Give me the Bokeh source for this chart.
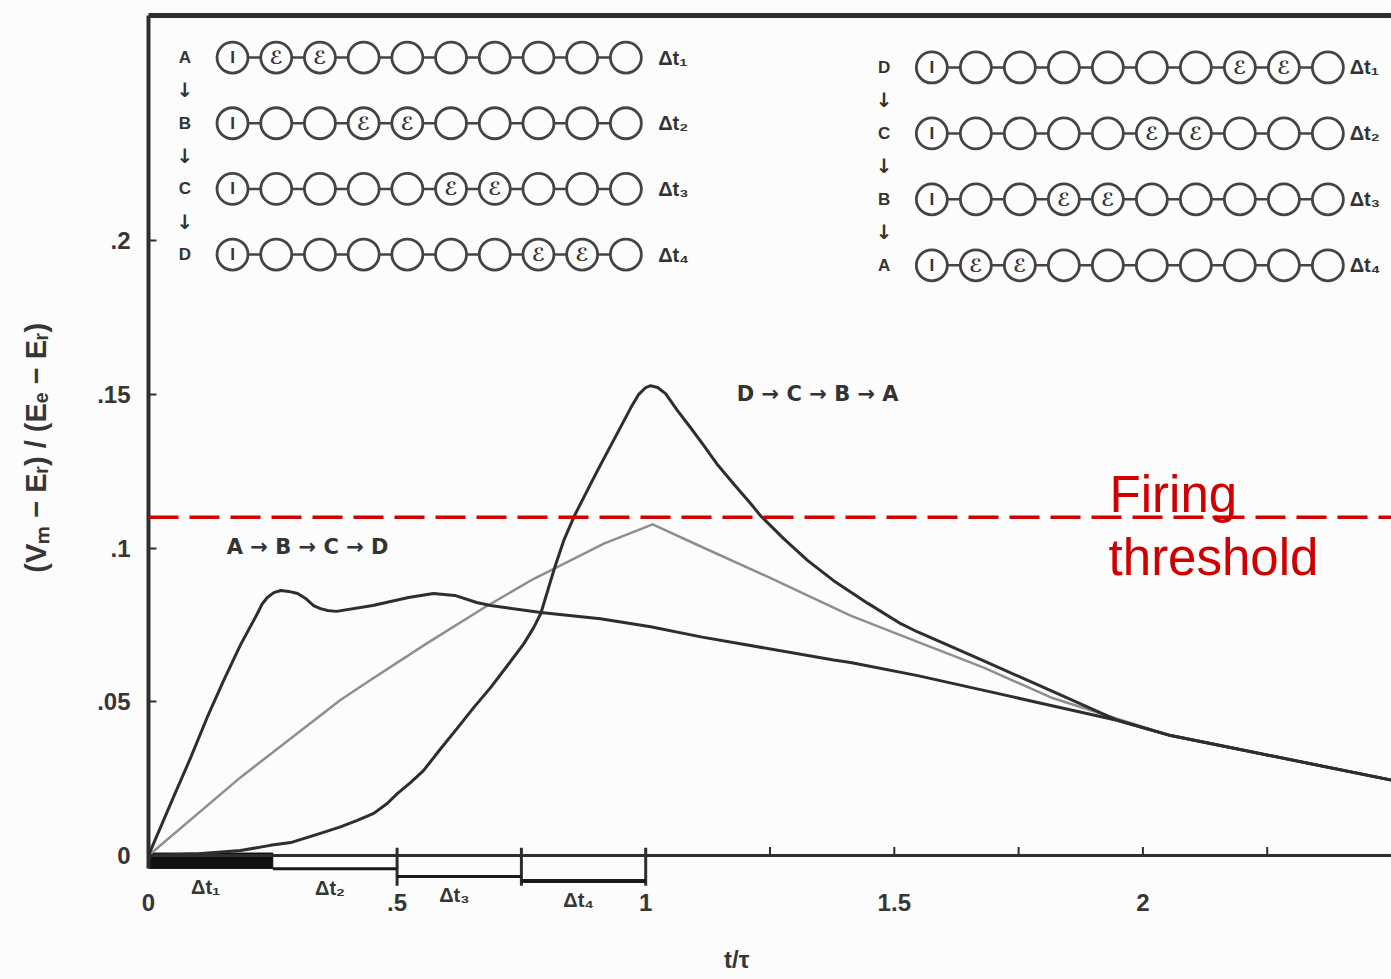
from bokeh.plotting import figure
from bokeh.models import Span, Label, LinearAxis, FixedTicker, Range1d
from bokeh.embed import file_html
from bokeh.resources import INLINE
from bokeh.core.properties import value

# ---------------- data ----------------
# A -> B -> C -> D sequence (soma-proximal first)
t_abcd = [0, 0.050, 0.085, 0.118, 0.151, 0.185, 0.219, 0.229, 0.239, 0.252, 0.266, 0.282, 0.300,
          0.316, 0.332, 0.346, 0.360, 0.378, 0.451, 0.523, 0.573, 0.616, 0.660, 0.688, 0.789,
          0.909, 1.01, 1.111, 1.378, 1.412, 1.547, 1.680, 1.815, 1.950, 2.056, 2.183, 2.5]
v_abcd = [0, 0.0189, 0.0319, 0.0449, 0.0569, 0.0685, 0.0787, 0.0819, 0.0839, 0.0855, 0.0862, 0.0859,
          0.0852, 0.0836, 0.0813, 0.0803, 0.0797, 0.0794, 0.0813, 0.0839, 0.0852, 0.0846, 0.0823,
          0.0813, 0.0790, 0.0770, 0.0744, 0.0711, 0.0636, 0.0628, 0.0585, 0.0537, 0.0488, 0.0439,
          0.0390, 0.0349, 0.0245]

# D -> C -> B -> A sequence (distal first)
t_dcba = [0, 0.100, 0.185, 0.245, 0.286, 0.320, 0.352, 0.386, 0.420, 0.453, 0.480, 0.501, 0.527,
          0.553, 0.588, 0.622, 0.654, 0.688, 0.722, 0.755, 0.775, 0.789, 0.803, 0.817, 0.835,
          0.857, 0.889, 0.909, 0.930, 0.950, 0.970, 0.986, 1.000, 1.010, 1.024, 1.040, 1.064,
          1.090, 1.117, 1.145, 1.177, 1.211, 1.231, 1.278, 1.326, 1.378, 1.447, 1.513, 1.547,
          1.680, 1.815, 1.950, 2.056, 2.183, 2.5]
v_dcba = [0, 0.0006, 0.0016, 0.0033, 0.0042, 0.0059, 0.0075, 0.0093, 0.0114, 0.0137, 0.0169, 0.0202,
          0.0237, 0.0276, 0.0348, 0.0416, 0.0481, 0.0546, 0.0618, 0.0689, 0.0742, 0.0787, 0.0862,
          0.0937, 0.1024, 0.1106, 0.1208, 0.1270, 0.1334, 0.1395, 0.1456, 0.1500, 0.1522, 0.1528,
          0.1522, 0.1502, 0.1447, 0.1392, 0.1333, 0.1270, 0.1208, 0.1145, 0.1105, 0.1030, 0.0959,
          0.0894, 0.0820, 0.0754, 0.0727, 0.0633, 0.0536, 0.0439, 0.0390, 0.0349, 0.0245]

# uniform input over the whole time (grey curve)
t_uniform = [0, 0.185, 0.386, 0.445, 0.559, 0.674, 0.775, 0.855, 0.917, 1.014, 1.111, 1.245,
             1.412, 1.547, 1.680, 1.815, 1.915, 2.056, 2.183, 2.5]
v_uniform = [0, 0.0254, 0.0506, 0.0569, 0.0689, 0.0805, 0.0900, 0.0965, 0.1015, 0.1077, 0.1005,
             0.0907, 0.0780, 0.0695, 0.0611, 0.0514, 0.0462, 0.0390, 0.0349, 0.0245]

threshold = 0.11

x_ticks = [0, 0.5, 1, 1.5, 2]
x_tick_labels = ["0", ".5", "1", "1.5", "2"]
y_ticks = [0, 0.05, 0.1, 0.15, 0.2]
y_tick_labels = ["0", ".05", ".1", ".15", ".2"]
small_x_ticks = [1.25, 1.5, 1.75, 2.0, 2.25]

dt_start = [0, 0.25, 0.5, 0.75]
dt_end = [0.25, 0.5, 0.75, 1.0]
dt_names = ["Δt₁", "Δt₂", "Δt₃", "Δt₄"]

n_comp = 10
left_order = ["A", "B", "C", "D"]
left_excited = [[1, 2], [3, 4], [5, 6], [7, 8]]
right_order = ["D", "C", "B", "A"]
right_excited = [[7, 8], [5, 6], [3, 4], [1, 2]]

# ---------------- styling / layout constants ----------------
INK = "#2e2e2e"
TXT = "#363636"
RED = "#d00000"
BG = "#fcfcfc"
FONT = value("Liberation Sans")
ARROW_FONT = value("DejaVu Sans")
BAR_DEPTH = [0.0042, 0.0043, 0.0068, 0.0083]
NBSP = "\u00a0"

p = figure(width=1391, height=979, x_range=Range1d(0, 2.5), y_range=Range1d(-0.02114, 0.2732),
           output_backend="svg", toolbar_location=None,
           min_border_left=148, min_border_right=0, min_border_top=15, min_border_bottom=59)
p.grid.visible = False
p.outline_line_color = None
p.background_fill_color = BG
p.border_fill_color = BG

# y axis
ya = p.yaxis[0]
ya.ticker = FixedTicker(ticks=y_ticks)
ya.bounds = (-0.0042, 0.2732)
ya.major_label_overrides = dict(zip(y_ticks, y_tick_labels))
ya.axis_line_width = 4
ya.axis_line_color = INK
ya.major_tick_in = 8
ya.major_tick_out = 0
ya.major_tick_line_width = 2
ya.major_tick_line_color = INK
ya.minor_tick_line_color = None
ya.major_label_standoff = 18
ya.major_label_text_font = "Liberation Sans"
ya.major_label_text_font_style = "bold"
ya.major_label_text_font_size = "24px"
ya.major_label_text_color = TXT
# leading padding nudges the centred label up to where the original sits
ya.axis_label = NBSP * 5 + "(Vₘ − Eᵣ) / (Eₑ − Eᵣ)"
ya.axis_label_text_font = "Liberation Sans"
ya.axis_label_text_font_style = "bold"
ya.axis_label_text_font_size = "29px"
ya.axis_label_text_color = TXT
ya.axis_label_standoff = 42

# x axis (labels only; pulled up next to the zero line)
xa = p.xaxis[0]
xa.ticker = FixedTicker(ticks=x_ticks)
xa.major_label_overrides = dict(zip(x_ticks, x_tick_labels))
xa.axis_line_color = None
xa.major_tick_line_color = None
xa.major_tick_in = 0
xa.major_tick_out = 0
xa.minor_tick_line_color = None
xa.major_label_standoff = -27
xa.major_label_text_font = "Liberation Sans"
xa.major_label_text_font_style = "bold"
xa.major_label_text_font_size = "24px"
xa.major_label_text_color = TXT
xa.axis_label = "t/τ" + NBSP * 10
xa.axis_label_text_font = "Liberation Sans"
xa.axis_label_text_font_style = "bold"
xa.axis_label_text_font_size = "24px"
xa.axis_label_text_color = TXT
xa.axis_label_standoff = 32

# top border as an axis line
top = LinearAxis(ticker=FixedTicker(ticks=[]), axis_line_width=5, axis_line_color=INK,
                 major_tick_line_color=None, minor_tick_line_color=None,
                 major_tick_in=0, major_tick_out=0, minor_tick_in=0, minor_tick_out=0,
                 major_label_standoff=0)
p.add_layout(top, "above")

# zero line and its ticks
p.add_layout(Span(location=0, dimension="width", line_color=INK, line_width=3))
p.segment(x0=small_x_ticks, y0=[0] * len(small_x_ticks), x1=small_x_ticks,
          y1=[0.0028] * len(small_x_ticks), line_color=INK, line_width=2)
p.segment(x0=dt_end[1:], y0=[0.0025] * 3, x1=dt_end[1:], y1=[-0.0098] * 3,
          line_color=INK, line_width=3)

# delta-t staircase
p.quad(left=dt_start[:1], right=dt_end[:1], top=[0.0008], bottom=[-BAR_DEPTH[0]],
       fill_color="#111111", line_color="#111111")
p.segment(x0=dt_start[1:], x1=dt_end[1:], y0=[-d for d in BAR_DEPTH[1:]],
          y1=[-d for d in BAR_DEPTH[1:]], line_color="#1a1a1a", line_width=[3, 3, 4])
p.text(x=[(s + e) / 2 - 0.01 for s, e in zip(dt_start, dt_end)],
       y=[-d - 0.0062 for d in BAR_DEPTH], text=dt_names, text_align="center",
       text_baseline="middle", text_font=FONT, text_font_style="bold",
       text_font_size="20px", text_color=TXT)

# firing threshold
p.add_layout(Span(location=threshold, dimension="width", line_color=RED, line_width=3.5,
                  line_dash="30 11"))
p.add_layout(Label(x=1.933, y=0.1174, text="Firing", text_align="left", text_baseline="alphabetic",
                   text_font="Liberation Sans", text_font_size="51px", text_color=RED))
p.add_layout(Label(x=1.931, y=0.0969, text="threshold", text_align="left", text_baseline="alphabetic",
                   text_font="Liberation Sans", text_font_size="51px", text_color=RED))

# curves
p.line(t_uniform, v_uniform, line_color="#8e8e8e", line_width=2.5, line_join="round")
p.line(t_abcd, v_abcd, line_color=INK, line_width=3, line_join="round")
p.line(t_dcba, v_dcba, line_color=INK, line_width=3, line_join="round")

p.text(x=[0.32], y=[0.1002], text=["A → B → C → D"], text_align="center", text_baseline="middle",
       text_font=ARROW_FONT, text_font_style="bold", text_font_size="21px", text_color="#333333")
p.text(x=[1.346], y=[0.1501], text=["D → C → B → A"], text_align="center", text_baseline="middle",
       text_font=ARROW_FONT, text_font_style="bold", text_font_size="21px", text_color="#333333")


# compartment chain diagrams
def chain_diagram(x0, dx, y0, dy, order, excited, dt_offset):
    xs_row = [x0 + k * dx for k in range(n_comp)]
    for i, (name, exc) in enumerate(zip(order, excited)):
        y = y0 - i * dy
        p.segment(x0=[xs_row[0]], x1=[xs_row[-1]], y0=[y], y1=[y], line_color="#444444", line_width=2.5)
        p.scatter(x=xs_row, y=[y] * n_comp, marker="circle", size=31, fill_color=BG,
                  line_color="#444444", line_width=2.8)
        p.text(x=[xs_row[0]], y=[y], text=["I"], text_align="center", text_baseline="middle",
               text_font=FONT, text_font_style="bold", text_font_size="17px", text_color="#333333")
        p.text(x=[xs_row[k] for k in exc], y=[y] * len(exc), text=["ℰ"] * len(exc),
               text_align="center", text_baseline="middle", text_font=value("DejaVu Sans"),
               text_font_style="bold", text_font_size="18px", text_color="#333333")
        p.text(x=[x0 - 0.096], y=[y], text=[name], text_align="center", text_baseline="middle",
               text_font=FONT, text_font_style="bold", text_font_size="17px", text_color="#333333")
        p.text(x=[xs_row[-1] + dt_offset], y=[y], text=[dt_names[i]], text_align="left",
               text_baseline="middle", text_font=FONT, text_font_style="bold",
               text_font_size="20px", text_color="#333333")
        if i < len(order) - 1:
            p.text(x=[x0 - 0.096], y=[y - dy / 2], text=["↓"], text_align="center",
                   text_baseline="middle", text_font=ARROW_FONT, text_font_style="bold",
                   text_font_size="20px", text_color="#333333")


chain_diagram(0.169, 0.0879, 0.2595, 0.02135, left_order, left_excited, 0.065)
chain_diagram(1.5755, 0.0885, 0.2563, 0.02145, right_order, right_excited, 0.044)

open("out.html", "w").write(file_html(p, INLINE))
